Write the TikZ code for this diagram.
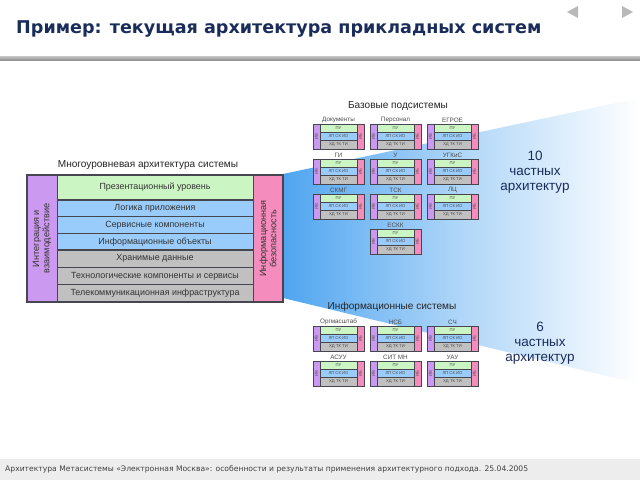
\documentclass[tikz,border=0pt]{standalone}
\usepackage{fontspec}
\setmainfont{Liberation Sans}
\newfontfamily\titlefont{DejaVu Sans}
\usetikzlibrary{positioning}

\definecolor{navy}{RGB}{26,45,90}
\definecolor{purpleC}{RGB}{204,153,240}
\definecolor{greenC}{RGB}{204,245,196}
\definecolor{blueC}{RGB}{153,204,250}
\definecolor{greyC}{RGB}{192,192,192}
\definecolor{pinkC}{RGB}{245,140,190}
\definecolor{wedgeC}{RGB}{80,165,240}
\definecolor{edgeC}{RGB}{70,70,80}

\tikzset{
  rowtxt/.style={font=\fontsize{7.6}{8}\selectfont, text=black!80},
  coltxt/.style={font=\fontsize{7.8}{8.8}\selectfont, text=black!80, rotate=90, align=center},
  grptitle/.style={font=\fontsize{8.6}{9}\selectfont, text=black!85},
  minilbl/.style={font=\fontsize{5.4}{6}\selectfont, text=black!70},
  minitxt/.style={font=\fontsize{3.6}{3.8}\selectfont, text=black!70, inner sep=0pt},
  bigtxt/.style={font=\fontsize{11.5}{13}\selectfont, text=navy, align=center},
  box/.style={draw=edgeC, line width=0.4pt}
}

% one small copy of the layered architecture
\newcommand{\minisys}[4]{%
  \filldraw[box, fill=purpleC] (#2,#3) rectangle ({#2+7},{#3+25});
  \filldraw[box, fill=pinkC] ({#2+44},#3) rectangle ({#2+51},{#3+25});
  \filldraw[box, fill=greenC] ({#2+7},#3) rectangle ({#2+44},{#3+8});
  \filldraw[box, fill=blueC] ({#2+7},{#3+8}) rectangle ({#2+44},{#3+16.5});
  \filldraw[box, fill=greyC] ({#2+7},{#3+16.5}) rectangle ({#2+44},{#3+25});
  \node[minilbl] (#1-lbl) at ({#2+25.5},{#3-4}) {#4};
  \node[minitxt] (#1-pu) at ({#2+25.5},{#3+4}) {ПУ};
  \node[minitxt] (#1-mid) at ({#2+25.5},{#3+12.25}) {ЛП СК ИО};
  \node[minitxt] (#1-low) at ({#2+25.5},{#3+20.75}) {ХД ТК ТИ};
  \node[minitxt, rotate=90] (#1-iv) at ({#2+3.5},{#3+12.5}) {ИВ};
  \node[minitxt, rotate=90] (#1-ib) at ({#2+47.5},{#3+12.5}) {ИБ};
}

\begin{document}
\begin{tikzpicture}[x=0.3mm, y=-0.3mm]
  \useasboundingbox (0,0) rectangle (640,480);
  \fill[white] (0,0) rectangle (640,480);

  % header
  \node[anchor=base west, inner sep=0pt, text=navy] (title) at (16,33)
    {\titlefont\bfseries\fontsize{15}{18}\selectfont Пример: текущая архитектура прикладных систем};
  \shade[top color=gray!45, bottom color=gray!85] (0,56) rectangle (640,60);
  \fill[gray!55] (567,12) -- (578,6) -- (578,18) -- cycle;
  \fill[gray!55] (622,6) -- (633,12) -- (622,18) -- cycle;

  % blue fan
  \shade[left color=wedgeC, right color=white, middle color=wedgeC!45] (283,174) -- (640,98) -- (640,384) -- (283,298) -- cycle;

  % left: layered architecture
  \node[grptitle] (multi) at (148,165) {Многоуровневая архитектура системы};
  \filldraw[box, fill=purpleC] (27,175) rectangle (57,302);
  \filldraw[box, fill=pinkC] (253,175) rectangle (283,302);
  \filldraw[box, fill=greenC] (57,175) rectangle (253,200);
  \filldraw[box, fill=blueC] (57,200) rectangle (253,216.7);
  \filldraw[box, fill=blueC] (57,216.7) rectangle (253,233.3);
  \filldraw[box, fill=blueC] (57,233.3) rectangle (253,250);
  \filldraw[box, fill=greyC] (57,250) rectangle (253,267.3);
  \filldraw[box, fill=greyC] (57,267.3) rectangle (253,284.7);
  \filldraw[box, fill=greyC] (57,284.7) rectangle (253,302);
  \draw[edgeC, line width=0.9pt] (57,200) -- (253,200) (57,250) -- (253,250);
  \draw[edgeC, line width=0.9pt] (27,175) rectangle (283,302);
  \node[rowtxt] (pres) at (155,187.5) {Презентационный уровень};
  \node[rowtxt] (logic) at (155,208.3) {Логика приложения};
  \node[rowtxt] (serv) at (155,225) {Сервисные компоненты};
  \node[rowtxt] (infobj) at (155,241.7) {Информационные объекты};
  \node[rowtxt] (stored) at (155,258.7) {Хранимые данные};
  \node[rowtxt] (tech) at (155,276) {Технологические компоненты и сервисы};
  \node[rowtxt] (tele) at (155,293.3) {Телекоммуникационная инфраструктура};
  \node[coltxt] (integr) at (42,238.5) {Интеграция и\\взаимодействие};
  \node[coltxt] (secur) at (268,238.5) {Информационная\\безопасность};

  % base subsystems
  \node[grptitle] (base) at (398,106) {Базовые подсистемы};
  \minisys{b1}{313}{124}{Документы}
  \minisys{b2}{370}{124}{Персонал}
  \minisys{b3}{427}{124}{ЕГРОЕ}
  \minisys{b4}{313}{159}{ГИ}
  \minisys{b5}{370}{159}{У}
  \minisys{b6}{427}{159}{УГКиС}
  \minisys{b7}{313}{194}{СКМГ}
  \minisys{b8}{370}{194}{ТСК}
  \minisys{b9}{427}{194}{ЛЦ}
  \minisys{b10}{370}{229}{ЕСКК}

  % information systems
  \node[grptitle] (infsys) at (392,307) {Информационные системы};
  \minisys{s1}{313}{326}{Оргмасштаб}
  \minisys{s2}{370}{326}{НСБ}
  \minisys{s3}{427}{326}{СЧ}
  \minisys{s4}{313}{361}{АСУУ}
  \minisys{s5}{370}{361}{СИТ МН}
  \minisys{s6}{427}{361}{УАУ}

  % counts
  \node[bigtxt] (ten) at (535,172) {10\\частных\\архитектур};
  \node[bigtxt] (six) at (540,343) {6\\частных\\архитектур};

  % footer
  \fill[gray!14] (0,459) rectangle (640,480);
  \node[anchor=west, inner sep=0pt, text=black!75] (foot) at (5,469)
    {\titlefont\fontsize{6.5}{7}\selectfont Архитектура Метасистемы «Электронная Москва»: особенности и результаты применения архитектурного подхода. 25.04.2005};
\end{tikzpicture}
\end{document}
